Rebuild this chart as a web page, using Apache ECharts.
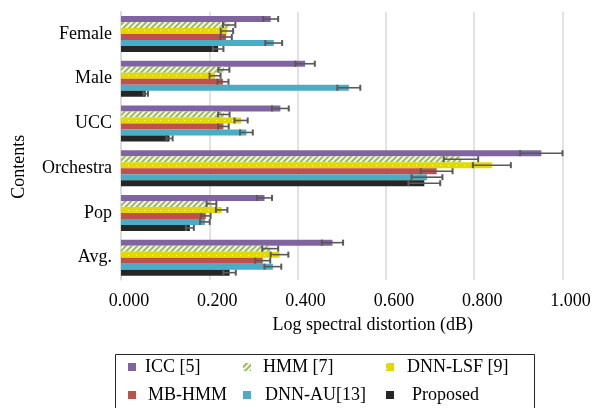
<!DOCTYPE html>
<html>
<head>
<meta charset="utf-8">
<script src="https://cdn.jsdelivr.net/npm/echarts@6/dist/echarts.min.js"></script>
<style>html,body{margin:0;padding:0;background:#fff;}#c{width:600px;height:408px;}</style>
</head>
<body>
<div id="c"></div>
<script>
var categories = ['Female', 'Male', 'UCC', 'Orchestra', 'Pop', 'Avg.'];
var xTicks = [0, 0.2, 0.4, 0.6, 0.8, 1.0];
var seriesNames = ['ICC [5]', 'HMM [7]', 'DNN-LSF [9]', 'MB-HMM', 'DNN-AU[13]', 'Proposed'];
var iccValues = [0.339, 0.417, 0.361, 0.952, 0.325, 0.479];
var iccErrors = [0.017, 0.022, 0.019, 0.048, 0.017, 0.024];
var hmmValues = [0.245, 0.233, 0.233, 0.770, 0.205, 0.338];
var hmmErrors = [0.014, 0.0125, 0.013, 0.039, 0.011, 0.018];
var lsfValues = [0.240, 0.213, 0.272, 0.840, 0.228, 0.359];
var lsfErrors = [0.014, 0.0125, 0.015, 0.043, 0.013, 0.020];
var mbhmmValues = [0.238, 0.231, 0.232, 0.715, 0.192, 0.321];
var mbhmmErrors = [0.013, 0.0125, 0.012, 0.036, 0.011, 0.017];
var auValues = [0.346, 0.516, 0.284, 0.693, 0.190, 0.344];
var auErrors = [0.019, 0.026, 0.0145, 0.035, 0.011, 0.019];
var proposedValues = [0.220, 0.056, 0.110, 0.687, 0.156, 0.246];
var proposedErrors = [0.012, 0.005, 0.007, 0.036, 0.009, 0.014];

var allValues = [iccValues, hmmValues, lsfValues, mbhmmValues, auValues, proposedValues];
var allErrors = [iccErrors, hmmErrors, lsfErrors, mbhmmErrors, auErrors, proposedErrors];
var colors = ['#8064A2', '#9BBB59', '#E3D800', '#C0504D', '#4BACC6', '#262626'];
var decals = [
  null,
  {symbol: 'rect', symbolSize: 1, dashArrayX: [1, 0], dashArrayY: [2, 2], rotation: -Math.PI / 4, color: 'rgba(255,255,255,0.9)'},
  {symbol: 'rect', symbolSize: 1, dashArrayX: [1, 7], dashArrayY: [1, 4], rotation: 0, color: 'rgba(255,255,255,0.85)'},
  null, null, null
];
var FONT = '"Liberation Serif", "Times New Roman", serif';
var BAR_W = 6;
var N = seriesNames.length;

var series = [];
for (var i = 0; i < N; i++) {
  var s = {
    name: seriesNames[i], type: 'bar', data: allValues[i],
    barWidth: BAR_W, barGap: '0%',
    itemStyle: {color: colors[i]}
  };
  if (decals[i]) s.itemStyle.decal = decals[i];
  series.push(s);
}
for (var j = 0; j < N; j++) {
  (function (idx) {
    var d = allValues[idx].map(function (v, k) { return [k, v, allErrors[idx][k]]; });
    series.push({
      name: seriesNames[idx] + ' err', type: 'custom', data: d, z: 10,
      encode: {x: 1, y: 0},
      renderItem: function (params, api) {
        var cat = api.value(0), v = api.value(1), e = api.value(2);
        var p0 = api.coord([v - e, cat]);
        var p1 = api.coord([v + e, cat]);
        var off = -(N * BAR_W) / 2 + BAR_W * idx + BAR_W / 2;
        var y = p0[1] + off;
        var h = BAR_W / 2;
        var st = {stroke: '#595959', lineWidth: 1.6};
        var cst = {stroke: '#595959', lineWidth: 2};
        return {type: 'group', children: [
          {type: 'line', shape: {x1: p0[0], y1: y, x2: p1[0], y2: y}, style: st},
          {type: 'line', shape: {x1: p0[0], y1: y - h, x2: p0[0], y2: y + h}, style: cst},
          {type: 'line', shape: {x1: p1[0], y1: y - h, x2: p1[0], y2: y + h}, style: cst}
        ]};
      }
    });
  })(j);
}

function legendCol(left, names, pads) {
  return {
    orient: 'vertical', left: left, top: 358, padding: 0,
    itemWidth: 8, itemHeight: 8, itemGap: 10, icon: 'rect',
    selectedMode: false,
    textStyle: {fontFamily: FONT, fontSize: 18, color: '#000'},
    data: names.map(function (n, k) { return {name: n, textStyle: {padding: [0, 0, 0, pads[k]]}}; })
  };
}

var chart = echarts.init(document.getElementById('c'), null, {renderer: 'canvas'});
chart.setOption({
  animation: false,
  backgroundColor: '#fff',
  grid: {left: 121, right: 37.5, top: 11.65, bottom: 128, containLabel: false},
  xAxis: {
    type: 'value', min: xTicks[0], max: xTicks[xTicks.length - 1], interval: 0.2,
    name: 'Log spectral distortion (dB)', nameLocation: 'middle', nameGap: 36,
    nameTextStyle: {fontFamily: FONT, fontSize: 18, color: '#000', padding: [0, 0, 0, 62]},
    axisLine: {show: false}, axisTick: {show: false},
    axisLabel: {fontFamily: FONT, fontSize: 18, color: '#000', margin: 12, padding: [0, 0, 0, 16],
      formatter: function (v) { return v.toFixed(3); }},
    splitLine: {show: true, lineStyle: {color: '#D9D9D9', width: 1.5}}
  },
  yAxis: {
    type: 'category', data: categories, inverse: true,
    name: 'Contents', nameLocation: 'middle', nameGap: 93, nameRotate: 90,
    nameTextStyle: {fontFamily: FONT, fontSize: 18, color: '#000', padding: [0, 42, 0, 0]},
    axisLine: {show: true, lineStyle: {color: '#D9D9D9', width: 1.5}},
    axisTick: {show: false},
    axisLabel: {fontFamily: FONT, fontSize: 18, color: '#000', margin: 9},
    splitLine: {show: false}
  },
  legend: [
    legendCol(128, ['ICC [5]', 'MB-HMM'], [4, 7]),
    legendCol(243, ['HMM [7]', 'DNN-AU[13]'], [7, 9]),
    legendCol(386, ['DNN-LSF [9]', 'Proposed'], [8, 13])
  ],
  graphic: [{
    type: 'rect', left: 113, top: 352, shape: {width: 419, height: 70},
    style: {fill: 'none', stroke: '#262626', lineWidth: 1}, silent: true
  }],
  series: series
});
</script>
</body>
</html>
